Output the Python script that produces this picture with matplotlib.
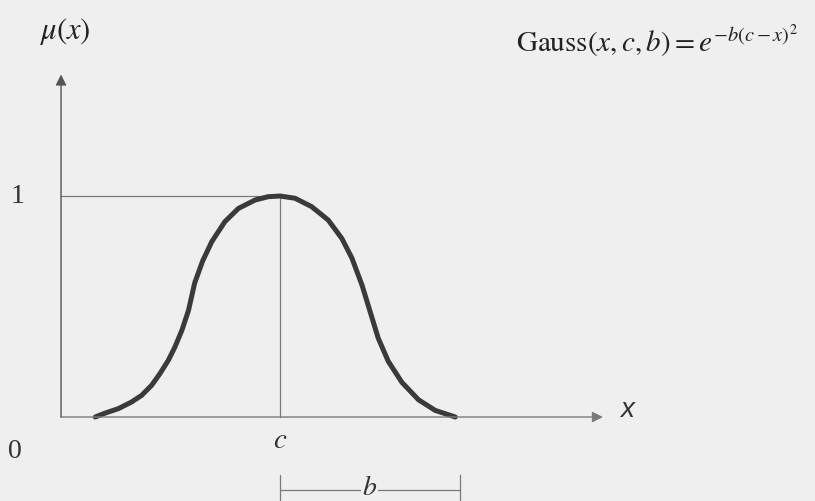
import matplotlib.pyplot as plt
import matplotlib as mpl

curve_x = [0.78, 1.01, 1.31, 1.61, 1.84, 2.07, 2.26, 2.45, 2.60, 2.76, 2.91,
           3.05, 3.23, 3.44, 3.74, 4.05, 4.43, 4.73, 5.00,
           5.34, 5.72, 6.10, 6.41, 6.64, 6.87, 7.06, 7.24, 7.47, 7.78, 8.16,
           8.54, 9.00]
curve_mu = [0.0, 0.018, 0.038, 0.068, 0.098, 0.144, 0.197, 0.257, 0.317,
            0.393, 0.483, 0.606, 0.705, 0.793, 0.884, 0.944, 0.982, 0.997,
            1.0,
            0.990, 0.952, 0.891, 0.808, 0.719, 0.597, 0.474, 0.357, 0.252,
            0.157, 0.078, 0.030, 0.0]

c_value = 5.0
peak_mu = 1.0
b_span = [5.0, 9.1]      # width marker under the axis
x_axis_end = 12.37
y_axis_end = 1.55

mpl.rcParams['mathtext.fontset'] = 'stix'
serif = 'Liberation Serif'
ink = '#3a3a3a'
axis_col = '#7a7a7a'
bg = '#efefef'

fig = plt.figure(figsize=(8.15, 5.01), dpi=100)
fig.patch.set_facecolor(bg)
ax = fig.add_axes([0, 0, 1, 1])
ax.set_facecolor(bg)
ax.set_xlim(-1.393, 17.21)
ax.set_ylim(-0.380, 1.887)
ax.axis('off')

# axes with arrow heads
ax.annotate('', xy=(x_axis_end, 0), xytext=(0, 0),
            arrowprops=dict(arrowstyle='-|>', color=axis_col, lw=1.0,
                            mutation_scale=16, shrinkA=0, shrinkB=0))
ax.annotate('', xy=(0, y_axis_end), xytext=(0, 0),
            arrowprops=dict(arrowstyle='-|>', color='#555555', lw=1.0,
                            mutation_scale=16, shrinkA=0, shrinkB=0))

# guide lines to the peak
ax.plot([0, c_value], [peak_mu, peak_mu], color=axis_col, lw=0.9)
ax.plot([c_value, c_value], [0, peak_mu], color=axis_col, lw=0.9)

# the bell curve
ax.plot(curve_x, curve_mu, color=ink, lw=3.6, solid_capstyle='round',
        solid_joinstyle='round')

# width bracket
ax.plot(b_span, [-0.330, -0.330], color=axis_col, lw=0.9)
for bx in b_span:
    ax.plot([bx, bx], [-0.262, -0.40], color=axis_col, lw=0.9)
ax.text(sum(b_span) / 2, -0.318, r'$b$', fontsize=20, ha='center',
        va='center', color='#333333',
        bbox=dict(facecolor=bg, edgecolor='none', pad=0.5))

# labels
ax.text(-1.0, peak_mu, '1', fontsize=20, family=serif, ha='center',
        va='center', color='#333333')
ax.text(-1.05, -0.158, '0', fontsize=20, family=serif, ha='center',
        va='center', color='#333333')
ax.text(c_value, -0.104, r'$c$', fontsize=21, ha='center', va='center',
        color='#333333')
ax.text(12.92, 0.03, 'x', fontsize=20, style='italic', family='Liberation Sans',
        ha='center', va='center', color='#333333')
ax.text(0.09, 1.745, r'$\mu(x)$', fontsize=22, ha='center', va='center',
        color='#222222')
ax.text(13.61, 1.70, r'$\mathrm{Gauss}(x,c,b)=e^{-b(c-x)^2}$', fontsize=21,
        ha='center', va='center', color='#222222')

fig.savefig('out.png', dpi=100, facecolor=fig.get_facecolor())
